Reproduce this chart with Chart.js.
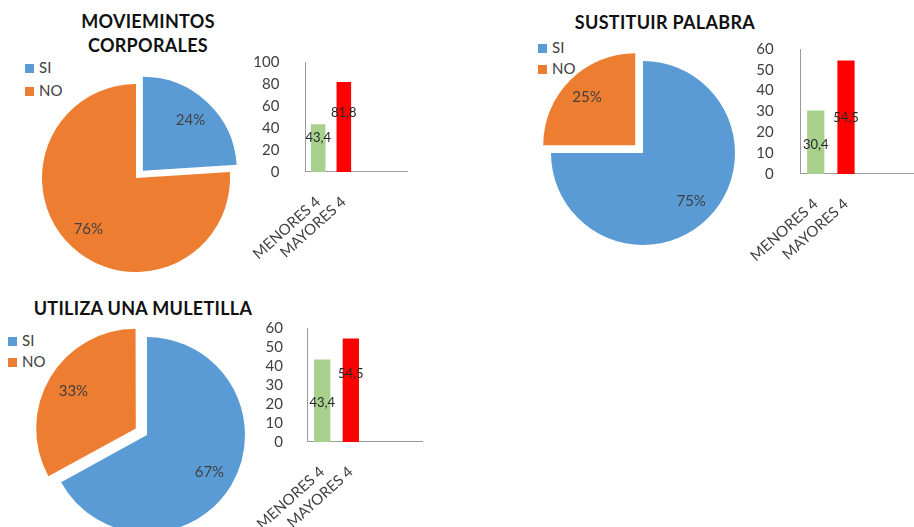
<!DOCTYPE html>
<html lang="es">
<head>
    <meta charset="UTF-8">
    <title>Resultados por categoría</title>
    <script src="https://cdn.jsdelivr.net/npm/chart.js"></script>
    <style>
        body {
            margin: 0;
            background: #ffffff;
            font-family: Lato, sans-serif;
        }

        #page {
            position: relative;
            width: 914px;
            height: 527px;
            overflow: hidden;
            background: #ffffff;
        }

        canvas {
            position: absolute;
        }

        .title {
            position: absolute;
            transform: translateX(-50%);
            font-weight: bold;
            font-size: 18px;
            letter-spacing: 0.3px;
            line-height: 24px;
            color: #111;
            text-align: center;
            white-space: nowrap;
        }

        .legend {
            position: absolute;
            font-size: 15px;
            color: #404040;
            white-space: nowrap;
        }

        .legend .box {
            display: inline-block;
            width: 9px;
            height: 9px;
            margin-right: 5px;
        }
    </style>
</head>

<body>
    <div id="page">
        <div class="title" style="left:148px; top:9px;">MOVIEMINTOS<br>CORPORALES</div>
        <div class="title" style="left:665px; top:10px;">SUSTITUIR PALABRA</div>
        <div class="title" style="left:143px; top:296px;">UTILIZA UNA MULETILLA</div>

        <div class="legend" id="legend1" style="left:25px; top:56px; line-height:23px;"></div>
        <div class="legend" id="legend2" style="left:538px; top:37px; line-height:21px;"></div>
        <div class="legend" id="legend3" style="left:8px; top:330px; line-height:21px;"></div>

        <canvas id="pie1"></canvas>
        <canvas id="bar1"></canvas>
        <canvas id="pie2"></canvas>
        <canvas id="bar2"></canvas>
        <canvas id="pie3"></canvas>
        <canvas id="bar3"></canvas>
    </div>

    <script>
        // data
        const pieLabels = ['SI', 'NO'];
        const pieColors = ['#5B9BD5', '#ED7D31'];
        const barLabels = ['MENORES 4', 'MAYORES 4', '', ''];
        const barColors = ['#A9D18E', '#FF0000'];

        const movimientosPie = [24, 76];
        const movimientosBar = [43.4, 81.8];
        const sustituirPie = [75, 25];
        const sustituirBar = [30.4, 54.5];
        const muletillaPie = [67, 33];
        const muletillaBar = [43.4, 54.5];

        // legends
        ['legend1', 'legend2', 'legend3'].forEach(id => {
            document.getElementById(id).innerHTML = pieLabels.map((l, i) =>
                `<div><span class="box" style="background:${pieColors[i]}"></span>${l}</div>`
            ).join('');
        });

        // percentage labels inside the slices
        // (chart.js moves an arc by offset / 4 when drawing it)
        const pieLabelPlugin = {
            id: 'pieLabels',
            afterDatasetsDraw(chart) {
                const ctx = chart.ctx;
                const meta = chart.getDatasetMeta(0);
                const data = chart.data.datasets[0].data;
                ctx.save();
                ctx.font = '15px Lato';
                ctx.fillStyle = '#404040';
                ctx.textAlign = 'center';
                ctx.textBaseline = 'middle';
                meta.data.forEach((arc, i) => {
                    const mid = (arc.startAngle + arc.endAngle) / 2;
                    const d = arc.options.offset / 4 + arc.outerRadius * 0.74;
                    ctx.fillText(data[i] + '%', arc.x + Math.cos(mid) * d, arc.y + Math.sin(mid) * d);
                });
                ctx.restore();
            }
        };

        // value labels on the bars (decimal comma)
        const barLabelPlugin = {
            id: 'barLabels',
            afterDatasetsDraw(chart, args, opts) {
                const ctx = chart.ctx;
                const meta = chart.getDatasetMeta(0);
                const data = chart.data.datasets[0].data;
                const y = chart.scales.y;
                ctx.save();
                ctx.font = '13px Lato';
                ctx.fillStyle = '#262626';
                ctx.textAlign = 'center';
                ctx.textBaseline = 'middle';
                meta.data.forEach((bar, i) => {
                    const v = data[i];
                    ctx.fillText(String(v).replace('.', ','), bar.x, y.getPixelForValue(v * opts.at[i]));
                });
                ctx.restore();
            }
        };

        function place(canvas, left, top, w, h) {
            canvas.width = w;
            canvas.height = h;
            canvas.style.left = left + 'px';
            canvas.style.top = top + 'px';
            canvas.style.width = w + 'px';
            canvas.style.height = h + 'px';
        }

        // cx, cy = pie centre, r = radius, shift = how far each slice is pulled out
        function makePie(id, data, cx, cy, r, shift) {
            const pad = 6;
            const offsets = shift.map(d => d * 4);
            const size = 2 * r + Math.max(...offsets) + 2 * pad;
            const canvas = document.getElementById(id);
            place(canvas, cx - size / 2, cy - size / 2, size, size);
            return new Chart(canvas, {
                type: 'pie',
                data: {
                    labels: pieLabels,
                    datasets: [{
                        data: data,
                        backgroundColor: pieColors,
                        borderWidth: 0,
                        offset: offsets
                    }]
                },
                options: {
                    responsive: false,
                    animation: false,
                    layout: { padding: pad },
                    plugins: { legend: { display: false }, tooltip: { enabled: false } }
                },
                plugins: [pieLabelPlugin]
            });
        }

        // area = where the plot area should sit on the page
        function makeBar(id, data, area, yMax, step, labelAt, tickPad) {
            const canvas = document.getElementById(id);
            place(canvas, 0, 0, 200, 240);
            const chart = new Chart(canvas, {
                type: 'bar',
                data: {
                    labels: barLabels,
                    datasets: [{
                        data: data,
                        backgroundColor: barColors,
                        barPercentage: 0.57,
                        categoryPercentage: 1
                    }]
                },
                options: {
                    responsive: false,
                    maintainAspectRatio: false,
                    animation: false,
                    plugins: {
                        legend: { display: false },
                        tooltip: { enabled: false },
                        barLabels: { at: labelAt }
                    },
                    scales: {
                        x: {
                            grid: { display: false },
                            border: { color: '#9a9a9a', width: 1 },
                            ticks: {
                                minRotation: 42,
                                maxRotation: 42,
                                autoSkip: false,
                                padding: 13,
                                color: '#404040',
                                font: { family: 'Lato', size: 15 }
                            }
                        },
                        y: {
                            min: 0,
                            max: yMax,
                            grid: { display: false },
                            border: { color: '#9a9a9a', width: 1 },
                            ticks: {
                                stepSize: step,
                                autoSkip: false,
                                padding: tickPad,
                                color: '#404040',
                                font: { family: 'Lato', size: 15 }
                            }
                        }
                    }
                },
                plugins: [barLabelPlugin]
            });

            // resize so the plot area gets the wanted size, then move the canvas onto it
            let ca = chart.chartArea;
            const w = Math.round(canvas.width + (area.right - area.left) - (ca.right - ca.left));
            const h = Math.round(canvas.height + (area.bottom - area.top) - (ca.bottom - ca.top));
            chart.resize(w, h);
            canvas.style.width = w + 'px';
            canvas.style.height = h + 'px';
            ca = chart.chartArea;
            canvas.style.left = (area.left - ca.left) + 'px';
            canvas.style.top = (area.top - ca.top) + 'px';
            return chart;
        }

        makePie('pie1', movimientosPie, 136, 178, 94, [10, 0]);
        makePie('pie2', sustituirPie, 643, 153, 92, [0, 11]);
        makePie('pie3', muletillaPie, 147, 435, 98, [0, 13]);

        makeBar('bar1', movimientosBar, { left: 305, right: 410, top: 62, bottom: 172 }, 100, 20, [0.71, 0.66], 18);
        makeBar('bar2', sustituirBar, { left: 801, right: 923, top: 49, bottom: 174 }, 60, 10, [0.46, 0.49], 19);
        makeBar('bar3', muletillaBar, { left: 308, right: 425, top: 328, bottom: 442 }, 60, 10, [0.48, 0.66], 17);
    </script>
</body>

</html>
